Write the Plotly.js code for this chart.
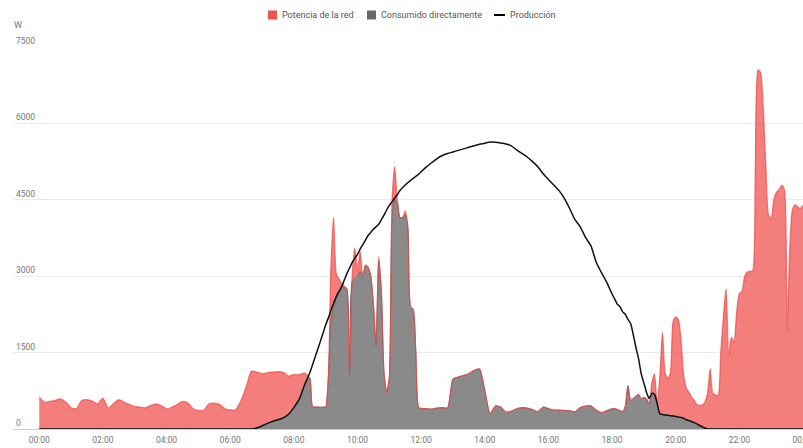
<!DOCTYPE html>
<html>
<head>
<meta charset="utf-8">
<script src="https://cdn.plot.ly/plotly-3.0.1.min.js"></script>
<style>
html,body{margin:0;padding:0;background:#fff;}
#chart{width:803px;height:448px;}
</style>
</head>
<body>
<div id="chart"></div>
<script>
// Sample times (local clock)
const times = [
"00:00","00:10","00:20","00:30","00:40","00:50",
"01:00","01:10","01:20","01:30","01:40","01:50",
"02:00","02:10","02:20","02:30","02:40","02:50",
"03:00","03:10","03:20","03:30","03:40","03:50",
"04:00","04:10","04:20","04:30","04:40","04:50",
"05:00","05:10","05:20","05:30","05:40","05:50",
"06:00","06:10","06:20","06:30","06:40","06:50",
"07:00","07:10","07:20","07:30","07:40","07:50",
"08:00","08:10","08:20","08:30",
"08:35","08:40","08:45","08:50","08:55",
"09:00","09:05","09:10","09:15","09:20","09:25","09:30","09:35","09:40","09:45","09:50","09:55",
"10:00","10:05","10:10","10:15","10:20","10:25","10:30","10:35","10:40","10:45","10:50","10:55",
"11:00","11:05","11:10","11:15","11:20","11:25","11:30","11:35","11:40","11:45","11:50","11:55",
"12:00",
"12:10","12:20","12:30","12:40","12:50",
"13:00","13:10","13:20","13:30","13:40","13:50",
"14:00","14:10","14:20","14:30","14:40","14:50",
"15:00","15:10","15:20","15:30","15:40","15:50",
"16:00","16:10","16:20","16:30","16:40","16:50",
"17:00","17:10","17:20","17:30","17:40","17:50",
"18:00",
"18:05","18:10","18:15","18:20","18:25","18:30","18:35","18:40","18:45","18:50","18:55",
"19:00","19:05","19:10","19:15","19:20","19:25","19:30","19:35","19:40","19:45","19:50","19:55",
"20:00","20:05","20:10","20:15","20:20","20:25","20:30","20:35","20:40","20:45","20:50","20:55",
"21:00","21:05","21:10","21:15","21:20","21:25","21:30","21:35","21:40","21:45","21:50","21:55",
"22:00","22:05","22:10","22:15","22:20","22:25","22:30","22:35","22:40","22:45","22:50","22:55",
"23:00","23:05","23:10","23:15","23:20","23:25","23:30","23:35","23:40","23:45","23:50","23:55",
"24:00"
];

// Consumido directamente (W)
const consumidoDirecto = [
0,0,0,0,0,0,
0,0,0,0,0,0,
0,0,0,0,0,0,
0,0,0,0,0,0,
0,0,0,0,0,0,
0,0,0,0,0,0,
0,0,0,0,0,20,
60,110,150,180,220,290,
420,580,860,1000,
440,430,430,425,430,
430,1000,2100,2400,2550,2650,2750,2800,2750,1050,2900,2950,
3000,3100,3000,3200,3180,3000,2450,1650,3300,2700,1100,720,
1000,4100,4500,4450,4150,4150,4200,3950,2400,2350,1500,430,
400,
400,390,410,420,415,
980,1020,1050,1085,1150,1180,
757,300,450,430,330,350,
397,417,410,380,340,430,
400,370,370,365,360,335,
420,450,455,370,320,360,
395,
400,380,360,340,450,850,560,600,640,680,594,
620,590,480,700,680,500,300,285,275,268,262,255,
245,235,225,210,181,165,145,125,100,69,45,20,
0,0,0,0,0,0,0,0,0,0,0,0,
0,0,0,0,0,0,0,0,0,0,0,0,
0,0,0,0,0,0,0,0,0,0,0,0,
0
];

// Potencia de la red (W)
const potenciaRed = [
625,527,541,560,593,527,
417,397,560,574,547,495,
606,409,495,574,527,482,
442,429,417,462,495,462,
397,429,482,541,515,397,
364,364,495,507,482,397,
377,377,550,820,1136,1097,
1025,994,967,944,891,750,
651,485,240,0,
0,0,0,0,0,
0,0,1100,1750,500,300,100,0,0,0,100,600,
100,380,0,20,0,0,0,0,80,0,0,0,
0,300,650,50,0,0,80,0,0,0,0,0,
0,
0,0,0,0,0,
0,0,0,0,0,0,
0,0,0,0,0,0,
0,0,0,0,0,0,
0,0,0,0,0,0,
0,0,0,0,0,0,
0,
0,0,0,0,0,0,0,0,0,0,0,
0,0,0,200,400,0,700,1615,825,722,838,1845,
1955,1915,1525,840,619,555,475,435,380,393,425,510,
700,1183,692,670,659,1500,2200,2756,1400,1800,1700,2300,
2658,2700,3000,3080,3096,3100,5000,7050,7000,6300,5147,4200,
4132,4500,4650,4700,4787,4700,1900,3509,4300,4400,4360,4330,
4394
];

// Producción (W)
const produccion = [
0,0,0,0,0,0,
0,0,0,0,0,0,
0,0,0,0,0,0,
0,0,0,0,0,0,
0,0,0,0,0,0,
0,0,0,0,0,0,
0,0,0,0,0,20,
60,110,150,180,220,290,
420,580,860,1100,
1250,1410,1560,1720,1880,
2040,2180,2330,2470,2600,2700,2790,2920,3050,3160,3270,3350,
3430,3530,3620,3710,3800,3860,3920,3970,4020,4110,4200,4300,
4390,4460,4530,4600,4680,4740,4790,4840,4880,4920,4960,5000,
5050,
5147,5230,5310,5370,5410,
5440,5470,5500,5530,5560,5590,
5610,5635,5630,5615,5595,5560,
5480,5410,5340,5250,5150,5010,
4900,4790,4680,4530,4330,4110,
3970,3760,3600,3280,3070,2880,
2650,
2550,2450,2400,2300,2250,2150,2070,1850,1600,1380,1085,
900,720,600,700,680,500,300,285,275,268,262,255,
245,235,225,210,181,165,145,125,100,69,45,20,
0,0,0,0,0,0,0,0,0,0,0,0,
0,0,0,0,0,0,0,0,0,0,0,0,
0,0,0,0,0,0,0,0,0,0,0,0,
0
];

const tickHours = [0,2,4,6,8,10,12,14,16,18,20,22,24];
const tickLabels = ["00:00","02:00","04:00","06:00","08:00","10:00","12:00","14:00","16:00","18:00","20:00","22:00","00:00"];
const yTicks = [0,1500,3000,4500,6000,7500];
const yLabels = ["0","1500","3000","4500","6000","7500"];
const seriesNames = ["Potencia de la red", "Consumido directamente", "Producción"];
const seriesColors = ["#ef5350", "#666666", "#000000"];

const hours = times.map(t => { const p = t.split(':'); return Number(p[0]) + Number(p[1]) / 60; });

const SM = 0.6;
const traces = [
  { x: hours, y: consumidoDirecto, type: 'scatter', mode: 'lines', stackgroup: 'consumo',
    line: { shape: 'spline', smoothing: SM, color: '#6e6e6e', width: 1 },
    fillcolor: '#8a8a8a', hoverinfo: 'skip', name: seriesNames[1] },
  { x: hours, y: potenciaRed, type: 'scatter', mode: 'lines', stackgroup: 'consumo',
    line: { shape: 'spline', smoothing: SM, color: 'rgba(236,72,70,0.7)', width: 1.3 },
    fillcolor: 'rgba(239,83,80,0.75)', hoverinfo: 'skip', name: seriesNames[0] },
  { x: hours, y: produccion, type: 'scatter', mode: 'lines',
    line: { shape: 'spline', smoothing: SM, color: '#111111', width: 1.5 },
    hoverinfo: 'skip', name: seriesNames[2] }
];

// Legend (drawn in the chart's header band, Google-Charts style)
const W = 803, H = 448, ML = 13, MR = 0, MT = 47, MB = 19;
const PW = W - ML - MR, PH = H - MT - MB;
const px = v => (v - ML) / PW;          // page x -> paper x
const py = v => (H - MB - v) / PH;      // page y -> paper y
const legY = 15;
const legItems = [
  { sym: 'square', x: 268, tx: 281 },
  { sym: 'square', x: 367, tx: 380 },
  { sym: 'line',   x: 494, tx: 509 }
];
const shapes = [];
const annotations = [];
legItems.forEach((it, i) => {
  if (it.sym === 'square') {
    shapes.push({ type: 'rect', xref: 'paper', yref: 'paper',
      x0: px(it.x), x1: px(it.x + 9), y0: py(legY + 4.5), y1: py(legY - 4.5),
      fillcolor: seriesColors[i], line: { width: 0 } });
  } else {
    shapes.push({ type: 'line', xref: 'paper', yref: 'paper',
      x0: px(it.x), x1: px(it.x + 11), y0: py(legY), y1: py(legY),
      line: { color: seriesColors[i], width: 2 } });
  }
  annotations.push({ text: seriesNames[i], xref: 'paper', yref: 'paper',
    x: px(it.tx), y: py(legY), xanchor: 'left', yanchor: 'middle', showarrow: false,
    borderpad: 0, font: { size: 9, color: '#555555' } });
});
annotations.push({ text: 'W', xref: 'paper', yref: 'paper', x: 0, y: py(25),
  xanchor: 'left', yanchor: 'middle', showarrow: false, borderpad: 0,
  font: { size: 9, color: '#757575' } });

const layout = {
  width: W, height: H,
  margin: { l: ML, r: MR, t: MT, b: MB, pad: 0 },
  paper_bgcolor: '#ffffff', plot_bgcolor: '#ffffff',
  font: { family: 'Roboto, Arial, sans-serif', size: 9, color: '#757575' },
  showlegend: false,
  xaxis: { range: [-0.825, 24], tickvals: tickHours, ticktext: tickLabels,
           showgrid: false, zeroline: false, showline: false, ticks: '',
           ticklabelstandoff: 4,
           ticklabeloverflow: 'allow', fixedrange: true,
           tickfont: { size: 8.5, color: '#757575' } },
  yaxis: { range: [0, 7500], tickvals: yTicks, ticktext: yLabels,
           ticklabelposition: 'inside top', ticklabeloverflow: 'allow',
           showgrid: true, gridcolor: '#ebebeb', gridwidth: 1,
           zeroline: true, zerolinecolor: '#cccccc', zerolinewidth: 1,
           showline: false, ticks: '', fixedrange: true,
           tickfont: { size: 8.5, color: '#757575' } },
  shapes: shapes,
  annotations: annotations,
  hovermode: false
};

Plotly.newPlot('chart', traces, layout, { staticPlot: true, displayModeBar: false });
</script>
</body>
</html>
